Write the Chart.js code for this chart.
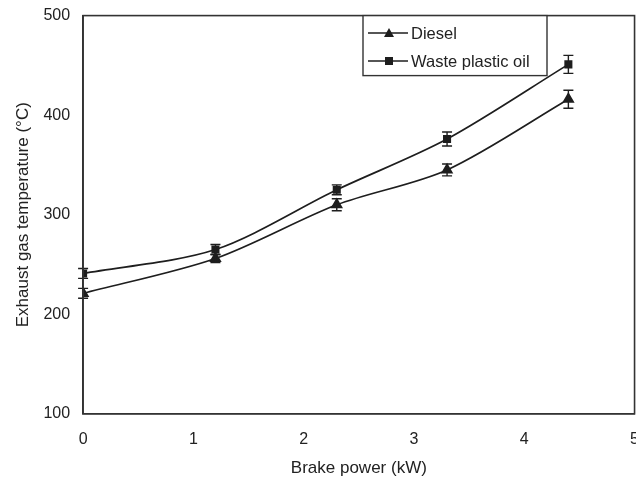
<!DOCTYPE html>
<html>
<head>
<meta charset="utf-8">
<script src="https://cdn.jsdelivr.net/npm/chart.js@4.4.1/dist/chart.umd.min.js"></script>
<style>
  html, body { margin: 0; padding: 0; background: #fff; overflow: hidden; }
  #wrap { width: 636px; height: 477px; overflow: hidden; }
</style>
</head>
<body>
<div id="wrap"><canvas id="c" width="650" height="477"></canvas></div>
<script>
// brake power (kW)
const power = [0, 1.2, 2.3, 3.3, 4.4];
// exhaust gas temperature (°C)
const diesel = [221, 256, 310, 345, 416];
const wasteOil = [241, 265, 325, 376, 451];
// error bar half-heights
const dieselErr = [5, 4, 6, 6, 9];
const wasteErr = [5, 5, 5, 7, 9];
const xTicks = [0, 1, 2, 3, 4, 5];
const yTicks = [100, 200, 300, 400, 500];

const ink = '#1e1e1e';
const family = '"Liberation Sans", Arial, sans-serif';
const tickFont = { family, size: 16 };
const titleFont = { family, size: 17 };

const toPts = (ys) => ys.map((y, i) => ({ x: power[i], y }));

// draws the error bars from the dataset errors through the scales
const errorBars = {
  id: 'errorBars',
  afterDatasetsDraw(chart){
    const { ctx, scales: { x, y } } = chart;
    ctx.save();
    ctx.strokeStyle = ink;
    ctx.lineWidth = 1.4;
    chart.data.datasets.forEach((ds) => {
      (ds.errors || []).forEach((e, i) => {
        const px = x.getPixelForValue(power[i]);
        const top = y.getPixelForValue(ds.data[i].y + e);
        const bot = y.getPixelForValue(ds.data[i].y - e);
        ctx.beginPath();
        ctx.moveTo(px, top); ctx.lineTo(px, bot);
        ctx.moveTo(px - 5, top); ctx.lineTo(px + 5, top);
        ctx.moveTo(px - 5, bot); ctx.lineTo(px + 5, bot);
        ctx.stroke();
      });
    });
    ctx.restore();
  }
};

// plot frame and boxed legend
const frame = {
  id: 'frame',
  afterDraw(chart){
    const { ctx, chartArea: a } = chart;
    ctx.save();
    ctx.strokeStyle = '#333';
    ctx.lineWidth = 1.6;
    ctx.strokeRect(a.left, a.top, a.right - a.left, a.bottom - a.top);

    // legend box
    const bx = 363, by = a.top, bw = 184, bh = 60;
    ctx.fillStyle = '#fff';
    ctx.fillRect(bx, by, bw, bh);
    ctx.lineWidth = 1.4;
    ctx.strokeRect(bx, by, bw, bh);
    const rows = [
      { label: 'Diesel', shape: 'triangle', y: 33 },
      { label: 'Waste plastic oil', shape: 'rect', y: 61 }
    ];
    ctx.font = '16.5px ' + family;
    ctx.textBaseline = 'middle';
    rows.forEach(r => {
      ctx.strokeStyle = ink;
      ctx.lineWidth = 1.5;
      ctx.beginPath();
      ctx.moveTo(bx + 5, r.y); ctx.lineTo(bx + 45, r.y);
      ctx.stroke();
      ctx.fillStyle = ink;
      const cx = bx + 26;
      if (r.shape === 'triangle') {
        ctx.beginPath();
        ctx.moveTo(cx, r.y - 5); ctx.lineTo(cx + 5, r.y + 4); ctx.lineTo(cx - 5, r.y + 4);
        ctx.closePath(); ctx.fill();
      } else {
        ctx.fillRect(cx - 4, r.y - 4, 8, 8);
      }
      ctx.fillStyle = '#222';
      ctx.fillText(r.label, bx + 48, r.y + 1);
    });
    ctx.restore();
  }
};

new Chart(document.getElementById('c'), {
  type: 'scatter',
  data: {
    datasets: [
      {
        label: 'Diesel',
        data: toPts(diesel),
        errors: dieselErr,
        showLine: true,
        tension: 0.3,
        borderColor: ink,
        borderWidth: 1.7,
        pointStyle: 'triangle',
        pointRadius: 5.5,
        pointBackgroundColor: ink,
        pointBorderColor: ink
      },
      {
        label: 'Waste plastic oil',
        data: toPts(wasteOil),
        errors: wasteErr,
        showLine: true,
        tension: 0.3,
        borderColor: ink,
        borderWidth: 1.7,
        pointStyle: 'rect',
        pointRadius: 4.5,
        pointBackgroundColor: ink,
        pointBorderColor: ink
      }
    ]
  },
  options: {
    responsive: false,
    animation: false,
    devicePixelRatio: 1,
    layout: { padding: { top: 14, left: 13, right: 0, bottom: 0 } },
    plugins: {
      legend: { display: false },
      tooltip: { enabled: false }
    },
    scales: {
      x: {
        type: 'linear',
        min: 0, max: 5,
        afterBuildTicks: (s) => { s.ticks = xTicks.map(v => ({ value: v })); },
        grid: { display: false, drawTicks: true, tickLength: 5, tickColor: '#333' },
        border: { color: '#333', width: 1.6 },
        ticks: { color: '#222', font: tickFont, padding: 11 },
        title: { display: true, text: 'Brake power (kW)', color: '#222', font: { family, size: 17, lineHeight: 1.0 }, padding: { top: 0, bottom: 0 } }
      },
      y: {
        type: 'linear',
        min: 100, max: 500,
        afterBuildTicks: (s) => { s.ticks = yTicks.map(v => ({ value: v })); },
        grid: { display: false, drawTicks: true, tickLength: 7, tickColor: '#333' },
        border: { color: '#333', width: 1.6 },
        ticks: { color: '#222', font: tickFont, padding: 6 },
        title: { display: true, text: 'Exhaust gas temperature (°C)', color: '#222', font: titleFont, padding: { top: 0, bottom: 4 } }
      }
    }
  },
  plugins: [errorBars, frame]
});
</script>
</body>
</html>
